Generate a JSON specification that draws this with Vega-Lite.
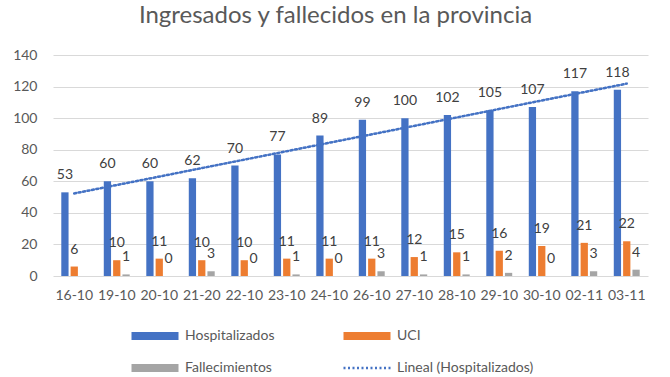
{
  "$schema": "https://vega.github.io/schema/vega-lite/v6.json",
  "width": 595,
  "height": 221,
  "autosize": {"type": "none"},
  "padding": {"left": 53, "top": 55, "right": 22, "bottom": 101},
  "background": "white",
  "config": {
    "font": "Lato",
    "view": {"stroke": null},
    "axis": {"labelFont": "Lato", "labelFontSize": 14, "labelColor": "#595959", "domain": false, "ticks": false, "title": null}
  },
  "title": {"text": "Ingresados y fallecidos en la provincia", "font": "Lato", "fontSize": 24, "fontWeight": "normal", "color": "#595959", "anchor": "middle", "dx": -15, "offset": 20},
  "datasets": {
    "d": [
      {"fecha": "16-10", "idx": 1, "serie": "Hospitalizados", "valor": 53},
      {"fecha": "16-10", "idx": 1, "serie": "UCI", "valor": 6},
      {"fecha": "19-10", "idx": 2, "serie": "Hospitalizados", "valor": 60},
      {"fecha": "19-10", "idx": 2, "serie": "UCI", "valor": 10},
      {"fecha": "19-10", "idx": 2, "serie": "Fallecimientos", "valor": 1},
      {"fecha": "20-10", "idx": 3, "serie": "Hospitalizados", "valor": 60},
      {"fecha": "20-10", "idx": 3, "serie": "UCI", "valor": 11},
      {"fecha": "20-10", "idx": 3, "serie": "Fallecimientos", "valor": 0},
      {"fecha": "21-20", "idx": 4, "serie": "Hospitalizados", "valor": 62},
      {"fecha": "21-20", "idx": 4, "serie": "UCI", "valor": 10},
      {"fecha": "21-20", "idx": 4, "serie": "Fallecimientos", "valor": 3},
      {"fecha": "22-10", "idx": 5, "serie": "Hospitalizados", "valor": 70},
      {"fecha": "22-10", "idx": 5, "serie": "UCI", "valor": 10},
      {"fecha": "22-10", "idx": 5, "serie": "Fallecimientos", "valor": 0},
      {"fecha": "23-10", "idx": 6, "serie": "Hospitalizados", "valor": 77},
      {"fecha": "23-10", "idx": 6, "serie": "UCI", "valor": 11},
      {"fecha": "23-10", "idx": 6, "serie": "Fallecimientos", "valor": 1},
      {"fecha": "24-10", "idx": 7, "serie": "Hospitalizados", "valor": 89},
      {"fecha": "24-10", "idx": 7, "serie": "UCI", "valor": 11},
      {"fecha": "24-10", "idx": 7, "serie": "Fallecimientos", "valor": 0},
      {"fecha": "26-10", "idx": 8, "serie": "Hospitalizados", "valor": 99},
      {"fecha": "26-10", "idx": 8, "serie": "UCI", "valor": 11},
      {"fecha": "26-10", "idx": 8, "serie": "Fallecimientos", "valor": 3},
      {"fecha": "27-10", "idx": 9, "serie": "Hospitalizados", "valor": 100},
      {"fecha": "27-10", "idx": 9, "serie": "UCI", "valor": 12},
      {"fecha": "27-10", "idx": 9, "serie": "Fallecimientos", "valor": 1},
      {"fecha": "28-10", "idx": 10, "serie": "Hospitalizados", "valor": 102},
      {"fecha": "28-10", "idx": 10, "serie": "UCI", "valor": 15},
      {"fecha": "28-10", "idx": 10, "serie": "Fallecimientos", "valor": 1},
      {"fecha": "29-10", "idx": 11, "serie": "Hospitalizados", "valor": 105},
      {"fecha": "29-10", "idx": 11, "serie": "UCI", "valor": 16},
      {"fecha": "29-10", "idx": 11, "serie": "Fallecimientos", "valor": 2},
      {"fecha": "30-10", "idx": 12, "serie": "Hospitalizados", "valor": 107},
      {"fecha": "30-10", "idx": 12, "serie": "UCI", "valor": 19},
      {"fecha": "30-10", "idx": 12, "serie": "Fallecimientos", "valor": 0},
      {"fecha": "02-11", "idx": 13, "serie": "Hospitalizados", "valor": 117},
      {"fecha": "02-11", "idx": 13, "serie": "UCI", "valor": 21},
      {"fecha": "02-11", "idx": 13, "serie": "Fallecimientos", "valor": 3},
      {"fecha": "03-11", "idx": 14, "serie": "Hospitalizados", "valor": 118},
      {"fecha": "03-11", "idx": 14, "serie": "UCI", "valor": 22},
      {"fecha": "03-11", "idx": 14, "serie": "Fallecimientos", "valor": 4}
    ]
  },
  "data": {"name": "d"},
  "encoding": {
    "x": {
      "field": "fecha", "type": "nominal", "sort": null,
      "scale": {"paddingInner": 0.39, "paddingOuter": 0.195},
      "axis": {"labelAngle": 0, "labelPadding": 12, "grid": false}
    },
    "y": {
      "field": "valor", "type": "quantitative",
      "scale": {"domain": [0, 140], "nice": false},
      "axis": {"values": [0, 20, 40, 60, 80, 100, 120, 140], "grid": true, "gridColor": "#D9D9D9", "gridWidth": 1, "labelPadding": 16}
    }
  },
  "layer": [
    {
      "mark": {"type": "bar"},
      "encoding": {
        "xOffset": {"field": "serie", "type": "nominal", "sort": ["Hospitalizados", "UCI", "Fallecimientos"], "scale": {"domain": ["Hospitalizados", "UCI", "Fallecimientos"], "paddingInner": 0.22, "paddingOuter": 0}},
        "color": {
          "field": "serie", "type": "nominal",
          "scale": {"domain": ["Hospitalizados", "UCI", "Fallecimientos", "Lineal (Hospitalizados)"], "range": ["#4472C4", "#ED7D31", "#A5A5A5", "#4472C4"]},
          "legend": {
            "orient": "none", "legendX": 95, "legendY": 274, "columns": 2, "direction": "horizontal", "title": null,
            "labelFont": "Lato", "labelFontSize": 14, "labelColor": "#595959", "labelOffset": 23,
            "symbolType": "M-1,-0.17H1V0.17H-1Z", "symbolSize": 2209, "columnPadding": 63, "rowPadding": 18,
            "encode": {
              "symbols": {
                "update": {
                  "shape": {"signal": "datum.value === 'Lineal (Hospitalizados)' ? 'M-1,0H1' : 'M-1,-0.17H1V0.17H-1Z'"},
                  "fill": {"signal": "datum.value === 'Lineal (Hospitalizados)' ? 'transparent' : scale('color', datum.value)"},
                  "stroke": {"signal": "datum.value === 'Lineal (Hospitalizados)' ? '#4472C4' : 'transparent'"},
                  "strokeDash": {"signal": "datum.value === 'Lineal (Hospitalizados)' ? [2, 2.5] : [1, 0]"},
                  "strokeWidth": {"signal": "datum.value === 'Lineal (Hospitalizados)' ? 2.5 : 0"},
                  "opacity": {"value": 1}
                }
              }
            }
          }
        }
      }
    },
    {
      "mark": {"type": "text", "baseline": "alphabetic", "dy": -13, "fontSize": 14, "font": "Lato", "color": "#404040"},
      "encoding": {
        "xOffset": {"field": "serie", "type": "nominal", "sort": ["Hospitalizados", "UCI", "Fallecimientos"]},
        "text": {"field": "valor", "type": "quantitative"}
      }
    },
    {
      "transform": [
        {"filter": "datum.serie === 'Hospitalizados'"},
        {"regression": "valor", "on": "idx", "method": "linear"},
        {"lookup": "idx", "from": {"data": {"name": "d"}, "key": "idx", "fields": ["fecha"]}}
      ],
      "mark": {"type": "line", "strokeDash": [2, 2.5], "strokeWidth": 2.5, "strokeCap": "round"},
      "encoding": {
        "color": {"datum": "Lineal (Hospitalizados)"}
      }
    }
  ]
}
